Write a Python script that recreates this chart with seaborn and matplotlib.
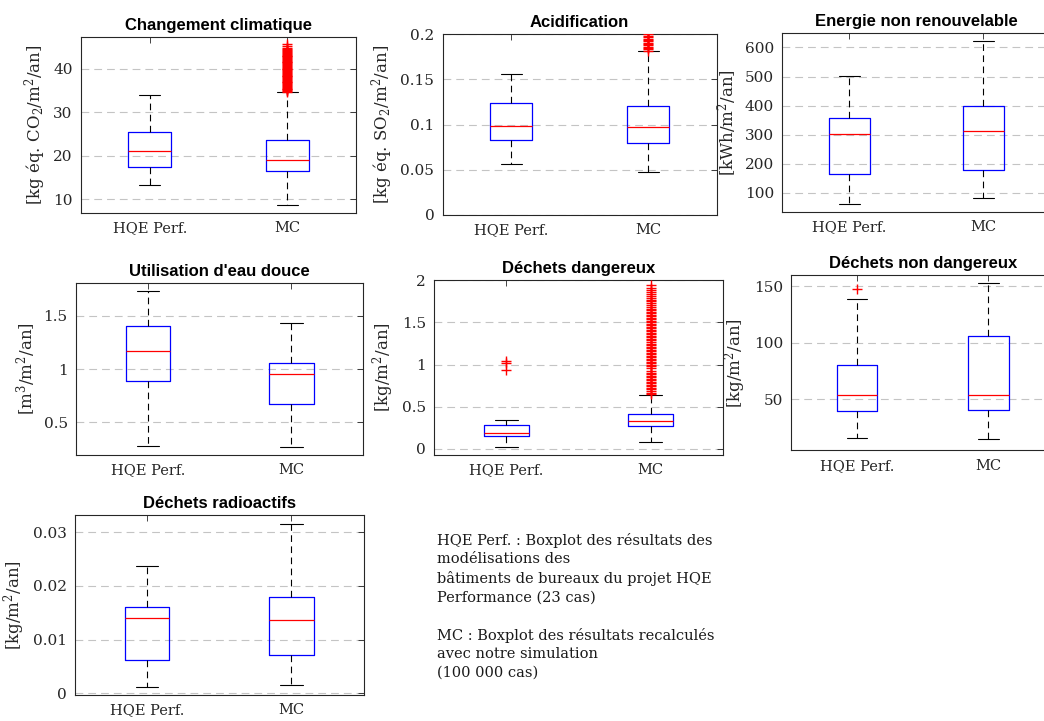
import matplotlib
matplotlib.use("Agg")
import matplotlib.pyplot as plt
import seaborn as sns
from matplotlib.ticker import FuncFormatter

categories = ["HQE Perf.", "MC"]

titles = [
    "Changement climatique",
    "Acidification",
    "Energie non renouvelable",
    "Utilisation d'eau douce",
    "Déchets dangereux",
    "Déchets non dangereux",
    "Déchets radioactifs",
]

ylabels = [
    r"[kg éq. CO$_2$/m$^2$/an]",
    r"[kg éq. SO$_2$/m$^2$/an]",
    r"[kWh/m$^2$/an]",
    r"[m$^3$/m$^2$/an]",
    r"[kg/m$^2$/an]",
    r"[kg/m$^2$/an]",
    r"[kg/m$^2$/an]",
]

# box summaries: whisker low, Q1, median, Q3, whisker high
clim_hqe = [13.2, 17.4, 21.2, 25.5, 33.9]
clim_mc = [8.6, 16.4, 19.1, 23.6, 34.6]
acid_hqe = [0.056, 0.0825, 0.0978, 0.124, 0.156]
acid_mc = [0.047, 0.0795, 0.097, 0.120, 0.181]
energ_hqe = [61, 164, 302, 358, 501]
energ_mc = [81, 177, 312, 397, 623]
eau_hqe = [0.28, 0.886, 1.17, 1.402, 1.738]
eau_mc = [0.27, 0.673, 0.953, 1.062, 1.437]
dang_hqe = [0.02, 0.147, 0.186, 0.278, 0.341]
dang_mc = [0.079, 0.27, 0.334, 0.418, 0.644]
nondang_hqe = [15.5, 39.6, 53.5, 80.6, 138.5]
nondang_mc = [14.6, 40.6, 53.5, 105.8, 152.9]
radio_hqe = [0.0011, 0.00625, 0.0141, 0.0160, 0.0237]
radio_mc = [0.0015, 0.0072, 0.0136, 0.0180, 0.0315]

# outliers (red crosses); the MC ones form dense streaks
clim_hqe_out = []
clim_mc_out = [34.7, 34.9, 35.1, 35.3, 35.5, 35.7, 35.9, 36.1, 36.3, 36.5, 36.7, 36.9,
               37.1, 37.3, 37.5, 37.7, 37.9, 38.1, 38.3, 38.5, 38.7, 38.9, 39.1, 39.3,
               39.5, 39.7, 39.9, 40.1, 40.3, 40.5, 40.7, 40.9, 41.1, 41.3, 41.5, 41.7,
               41.9, 42.1, 42.3, 42.5, 42.7, 42.9, 43.1, 43.3, 43.5, 43.7, 43.9, 44.1,
               44.3, 44.5, 44.9, 45.3, 45.8]
acid_hqe_out = []
acid_mc_out = [0.1815, 0.183, 0.1845, 0.186, 0.1875, 0.189, 0.1905, 0.192, 0.1935,
               0.195, 0.1965, 0.198, 0.1995, 0.201, 0.2025]
energ_hqe_out = []
energ_mc_out = []
eau_hqe_out = []
eau_mc_out = []
dang_hqe_out = [0.93, 1.02, 1.04]
dang_mc_out = [0.650, 0.668, 0.686, 0.704, 0.722, 0.740, 0.758, 0.776, 0.794, 0.812,
               0.830, 0.848, 0.866, 0.884, 0.902, 0.925, 0.962, 0.980, 0.998, 1.016,
               1.034, 1.052, 1.070, 1.088, 1.106, 1.124, 1.142, 1.160, 1.178, 1.196,
               1.214, 1.232, 1.250, 1.268, 1.286, 1.304, 1.322, 1.340, 1.358, 1.376,
               1.394, 1.412, 1.430, 1.448, 1.466, 1.484, 1.502, 1.520, 1.538, 1.556,
               1.574, 1.592, 1.610, 1.628, 1.646, 1.664, 1.685, 1.705, 1.728, 1.750,
               1.772, 1.795, 1.818, 1.840, 1.865, 1.890, 1.915, 1.940]
nondang_hqe_out = [148]
nondang_mc_out = []
radio_hqe_out = []
radio_mc_out = []

ylims = [(6.9, 47.3), (0, 0.2), (33, 651), (0.193, 1.813), (-0.068, 2.01), (4.9, 160), (-0.0003, 0.0332)]
yticks = [
    [10, 20, 30, 40],
    [0, 0.05, 0.1, 0.15, 0.2],
    [100, 200, 300, 400, 500, 600],
    [0.5, 1, 1.5],
    [0, 0.5, 1, 1.5, 2],
    [50, 100, 150],
    [0, 0.01, 0.02, 0.03],
]

notes = ("HQE Perf. : Boxplot des résultats des\nmodélisations des\n"
         "bâtiments de bureaux du projet HQE\nPerformance (23 cas)\n\n"
         "MC : Boxplot des résultats recalculés\navec notre simulation\n(100 000 cas)")

panels = [
    (clim_hqe, clim_mc, clim_hqe_out, clim_mc_out),
    (acid_hqe, acid_mc, acid_hqe_out, acid_mc_out),
    (energ_hqe, energ_mc, energ_hqe_out, energ_mc_out),
    (eau_hqe, eau_mc, eau_hqe_out, eau_mc_out),
    (dang_hqe, dang_mc, dang_hqe_out, dang_mc_out),
    (nondang_hqe, nondang_mc, nondang_hqe_out, nondang_mc_out),
    (radio_hqe, radio_mc, radio_hqe_out, radio_mc_out),
]

# axes boxes in pixels: left, top, right, bottom
boxes_px = [
    (81, 37.3, 356, 212.7),
    (442.7, 34, 716.7, 215),
    (782.3, 32.7, 1050.3, 212),
    (76, 282.7, 363.3, 455),
    (434.3, 279.5, 722.7, 454.5),
    (791.3, 275, 1054, 450.3),
    (75, 515, 363.5, 695),
]

sns.set_style("white")
plt.rcParams["font.family"] = ["DejaVu Serif"]
plt.rcParams["mathtext.fontset"] = "dejavuserif"
plt.rcParams["axes.edgecolor"] = "#262626"
plt.rcParams["xtick.color"] = "#262626"
plt.rcParams["ytick.color"] = "#262626"

W, H = 1044, 721
fig = plt.figure(figsize=(W / 100, H / 100), dpi=100)

fmt = FuncFormatter(lambda v, _: f"{v:g}")

for i, (hqe, mc, hqe_out, mc_out) in enumerate(panels):
    l, t, r, b = boxes_px[i]
    ax = fig.add_axes([l / W, 1 - b / H, (r - l) / W, (b - t) / H])
    ax.yaxis.grid(True, color="#c4c4c4", linestyle=(0, (7, 4.5)), linewidth=0.8)
    ax.set_axisbelow(True)

    xs = [categories[0]] * len(hqe) + [categories[1]] * len(mc)
    sns.boxplot(
        x=xs, y=hqe + mc, order=categories, whis=(0, 100), width=0.31,
        fill=False, showfliers=False, ax=ax,
        boxprops=dict(color="#0000ff", linewidth=0.9),
        medianprops=dict(color="#ff0000", linewidth=0.9),
        whiskerprops=dict(color="black", linestyle=(0, (6, 4)), linewidth=0.8),
        capprops=dict(color="black", linewidth=0.8),
    )

    out_x = [categories[0]] * len(hqe_out) + [categories[1]] * len(mc_out)
    out_y = hqe_out + mc_out
    if out_y:
        sns.stripplot(x=out_x, y=out_y, order=categories, jitter=False, marker="+",
                      color="#ff0000", size=6.5, linewidth=1.0, ax=ax)

    ax.set_xlim(-0.5, 1.5)
    ax.set_ylim(*ylims[i])
    ax.set_yticks(yticks[i])
    ax.yaxis.set_major_formatter(fmt)
    ax.set_xlabel("")
    ax.set_ylabel(ylabels[i], fontsize=12)
    ax.set_title(titles[i], fontsize=12, fontweight="bold", family="Liberation Sans",
                 color="black", pad=5)
    ax.tick_params(direction="in", top=True, right=True, length=4, width=0.6,
                   labelsize=11, pad=6)
    ax.tick_params(axis="x", labelsize=10.5)
    for sp in ax.spines.values():
        sp.set_visible(True)
        sp.set_linewidth(0.8)

fig.text(437 / W, 1 - 533 / H, notes, ha="left", va="top", fontsize=10.5,
         linespacing=1.4, color="#1a1a1a")

fig.savefig("out.png", dpi=100)
